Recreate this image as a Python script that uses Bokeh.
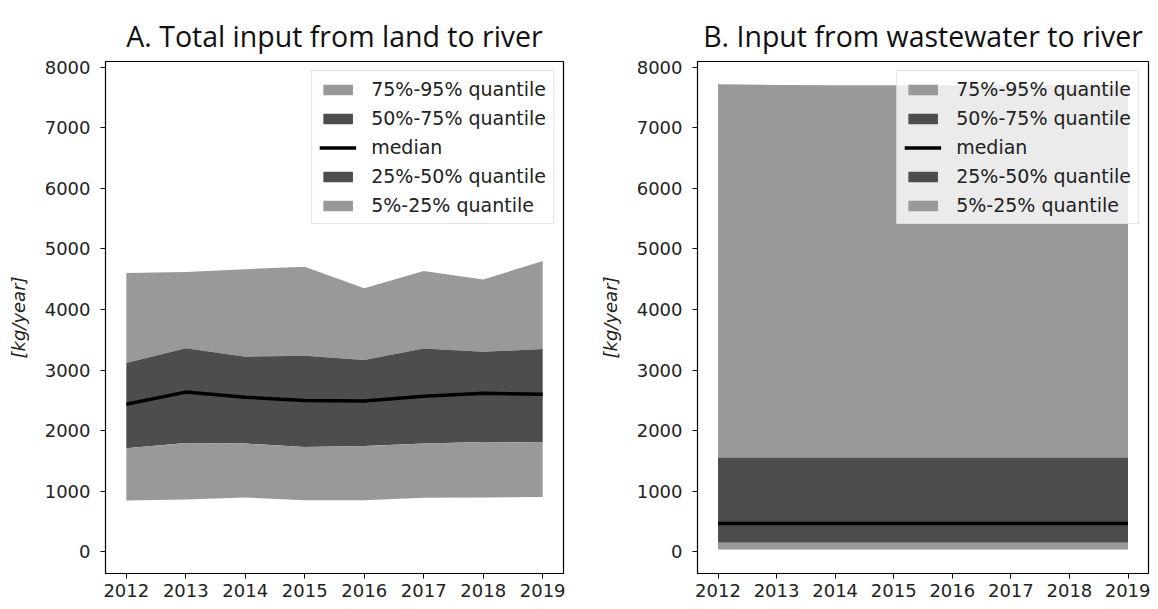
from bokeh.plotting import figure
from bokeh.models import Range1d, Legend, LegendItem, FixedTicker
from bokeh.layouts import row
from bokeh.embed import file_html
from bokeh.resources import INLINE

years = [2012, 2013, 2014, 2015, 2016, 2017, 2018, 2019]

# Panel A: total input from land to river [kg/year]
a_p95 = [4600, 4620, 4665, 4705, 4350, 4635, 4495, 4800]
a_p75 = [3115, 3360, 3220, 3235, 3165, 3355, 3300, 3345]
a_med = [2435, 2635, 2550, 2495, 2490, 2565, 2615, 2600]
a_p25 = [1710, 1795, 1785, 1730, 1745, 1785, 1810, 1805]
a_p05 = [845, 860, 895, 850, 850, 890, 895, 905]

# Panel B: input from wastewater to river [kg/year]
b_p95 = [7720, 7705, 7700, 7700, 7700, 7700, 7700, 7700]
b_p75 = [1555, 1555, 1555, 1555, 1555, 1555, 1555, 1555]
b_med = [465, 465, 465, 465, 465, 465, 465, 465]
b_p25 = [148, 148, 148, 148, 148, 148, 148, 148]
b_p05 = [38, 38, 38, 38, 38, 38, 38, 38]

titles = ["A. Total input from land to river", "B. Input from wastewater to river"]
legend_labels = ["75%-95% quantile", "50%-75% quantile", "median",
                 "25%-50% quantile", "5%-25% quantile"]
y_ticks = [0, 1000, 2000, 3000, 4000, 5000, 6000, 7000, 8000]
y_label = "[kg/year]"

LIGHT = "#999999"
DARK = "#4d4d4d"
TICK_FONT = "DejaVu Sans"


def make(title, p95, p75, med, p25, p05, width, left, right):
    p = figure(width=width, height=601,
               x_range=Range1d(2011.65, 2019.35), y_range=Range1d(-360, 8094),
               output_backend="svg", toolbar_location=None,
               min_border_left=left, min_border_right=right,
               min_border_top=61, min_border_bottom=28, title=title)
    p.title.text_font = "Open Sans"
    p.title.text_font_size = "28.5px"
    p.title.text_font_style = "normal"
    p.title.text_color = "#111111"
    p.title.align = "center"
    p.title.vertical_align = "top"
    p.title.standoff = 10

    p.grid.visible = False
    p.outline_line_color = "black"
    p.outline_line_width = 1.2
    p.outline_line_alpha = 1.0

    for ax in (p.xaxis, p.yaxis):
        ax.axis_line_color = "black"
        ax.major_tick_line_color = "black"
        ax.major_tick_out = 5
        ax.major_tick_in = 0
        ax.minor_tick_line_color = None
        ax.major_label_text_font = TICK_FONT
        ax.major_label_text_font_size = "18px"
        ax.major_label_text_color = "#222222"
    p.xaxis.ticker = FixedTicker(ticks=years)
    p.xaxis.major_label_standoff = 5
    p.yaxis.ticker = FixedTicker(ticks=y_ticks)
    p.yaxis.major_label_standoff = 10
    p.yaxis.axis_label = y_label
    p.yaxis.axis_label_text_font = TICK_FONT
    p.yaxis.axis_label_text_font_size = "18px"
    p.yaxis.axis_label_text_font_style = "italic"
    p.yaxis.axis_label_text_color = "#222222"
    p.yaxis.axis_label_standoff = 13

    r1 = p.varea(x=years, y1=p75, y2=p95, fill_color=LIGHT, fill_alpha=1.0)
    r2 = p.varea(x=years, y1=med, y2=p75, fill_color=DARK, fill_alpha=1.0)
    r4 = p.varea(x=years, y1=p25, y2=med, fill_color=DARK, fill_alpha=1.0)
    r5 = p.varea(x=years, y1=p05, y2=p25, fill_color=LIGHT, fill_alpha=1.0)
    r3 = p.line(x=years, y=med, line_color="black", line_width=3.5)

    legend = Legend(
        items=[LegendItem(label=lab, renderers=[r])
               for lab, r in zip(legend_labels, [r1, r2, r3, r4, r5])],
        location="top_right", margin=9, padding=7, spacing=7,
        label_height=20, glyph_width=37, glyph_height=13, label_standoff=15,
        label_text_font=TICK_FONT, label_text_font_size="19px",
        label_text_color="#222222",
        border_line_color="#cccccc", border_line_width=1,
        background_fill_color="white", background_fill_alpha=0.8)
    p.add_layout(legend)
    return p


pa = make(titles[0], a_p95, a_p75, a_med, a_p25, a_p05, 590, 105, 27)
pb = make(titles[1], b_p95, b_p75, b_med, b_p25, b_p05, 560, 107, 2)

layout = row(pa, pb)
open("out.html", "w").write(file_html(layout, INLINE))
